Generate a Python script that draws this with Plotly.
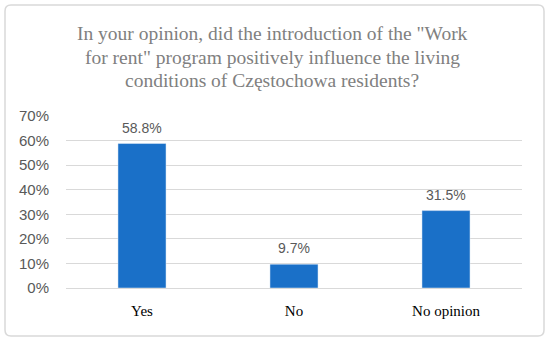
import plotly.graph_objects as go

categories = ["Yes", "No", "No opinion"]
values = [58.8, 9.7, 31.5]
value_labels = ["58.8%", "9.7%", "31.5%"]
tick_vals = [0, 10, 20, 30, 40, 50, 60, 70]
tick_text = ["0%", "10%", "20%", "30%", "40%", "50%", "60%", "70%"]
title_lines = ['In your opinion, did the introduction of the "Work',
               'for rent" program positively influence the living',
               'conditions of Częstochowa residents?']

W, H = 550, 342
L, R, T, B = 66, 28, 116, 54
pw, ph = W - L - R, H - T - B

def px(x):
    return (x - L) / pw

def py(y):
    return (H - B - y) / ph

fig = go.Figure()
fig.add_trace(go.Bar(
    x=categories, y=values, marker_color="#1a70c8", width=0.316,
    hoverinfo="skip",
))

for c, v, t in zip(categories, values, value_labels):
    fig.add_annotation(x=c, y=v, text=t, showarrow=False, yshift=16,
                       font=dict(family="Liberation Sans", size=14, color="#595959"))

# title, one annotation per line (baselines ~40, 63.5, 87)
for i, line in enumerate(title_lines):
    base = 40 + 23.5 * i
    fig.add_annotation(xref="paper", yref="paper", x=px(272), y=py(base - 6.5),
                       text=line, showarrow=False, xanchor="center", yanchor="middle",
                       font=dict(family="Liberation Serif", size=19.5, color="#808080"))

# rounded border
x0, x1, y0, y1, r = 5, 544, 5, 336, 6
path = (f"M {px(x0+r)},{py(y0)} L {px(x1-r)},{py(y0)} "
        f"Q {px(x1)},{py(y0)} {px(x1)},{py(y0+r)} "
        f"L {px(x1)},{py(y1-r)} Q {px(x1)},{py(y1)} {px(x1-r)},{py(y1)} "
        f"L {px(x0+r)},{py(y1)} Q {px(x0)},{py(y1)} {px(x0)},{py(y1-r)} "
        f"L {px(x0)},{py(y0+r)} Q {px(x0)},{py(y0)} {px(x0+r)},{py(y0)} Z")
fig.add_shape(type="path", path=path, xref="paper", yref="paper",
              line=dict(color="#d9d9d9", width=1.5))

fig.update_layout(
    width=W, height=H,
    margin=dict(l=L, r=R, t=T, b=B),
    paper_bgcolor="white", plot_bgcolor="white",
    showlegend=False,
    bargap=0.684,
)
fig.update_xaxes(showgrid=False, showline=False, ticks="",
                 ticklabelstandoff=12,
                 tickfont=dict(family="Liberation Serif", size=15, color="#000000"))
fig.update_yaxes(range=[0, 70], tickvals=tick_vals, ticktext=tick_text,
                 showgrid=True, gridcolor="#d9d9d9", gridwidth=1,
                 zeroline=True, zerolinecolor="#d9d9d9", zerolinewidth=1,
                 showline=False, ticks="", ticklabelstandoff=16,
                 tickfont=dict(family="Liberation Sans", size=15, color="#595959"))

fig.write_html("out.html", config={"displayModeBar": False},
               post_script="document.body.style.margin='0';")
